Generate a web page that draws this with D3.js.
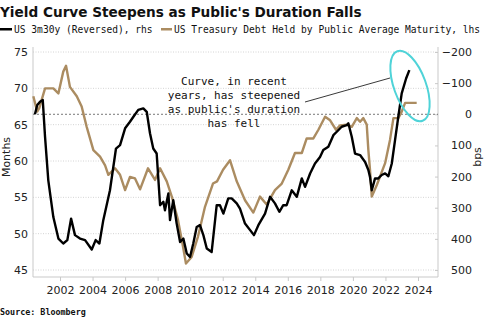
<!DOCTYPE html>
<html>
<head>
<meta charset="utf-8">
<script src="https://cdn.jsdelivr.net/npm/d3@7"></script>
<style>
  body { margin: 0; background: #fff; }
  svg { display: block; }
</style>
</head>
<body>
<svg id="chart" width="485" height="321"></svg>
<script>
// avg maturity of debt held by public (months), lhs
var matYears = [2000.36, 2000.60, 2000.73, 2001.08, 2001.59, 2001.90, 2002.20, 2002.37, 2002.61, 2003.03,
  2003.33, 2003.64, 2004.05, 2004.46, 2004.77, 2004.97, 2005.38, 2005.69, 2006.00, 2006.30,
  2006.61, 2006.92, 2007.41, 2007.84, 2008.15, 2008.56, 2008.87, 2009.25, 2009.56, 2009.74,
  2010.09, 2010.48, 2010.91, 2011.40, 2011.65, 2012.02, 2012.45, 2012.86, 2013.37, 2013.88,
  2014.29, 2014.70, 2015.21, 2015.63, 2016.03, 2016.44, 2016.86, 2017.16, 2017.57, 2017.88,
  2018.29, 2018.60, 2018.96, 2019.21, 2019.62, 2019.93, 2020.24, 2020.44, 2020.64, 2020.85,
  2020.95, 2021.05, 2021.16, 2021.47, 2021.98, 2022.28, 2022.49, 2022.79, 2023.00, 2023.21, 2023.92]
var matMonths = [68.9, 66.8, 67.3, 70.0, 70.0, 69.3, 72.3, 73.1, 70.2, 68.9,
  67.5, 64.7, 61.5, 60.6, 59.4, 58.1, 59.0, 58.1, 56.0, 57.8,
  57.6, 56.1, 59.0, 57.4, 59.0, 57.2, 55.1, 51.9, 48.2, 45.9,
  46.8, 49.6, 53.7, 56.9, 57.2, 58.8, 60.1, 57.2, 54.6, 52.9,
  55.1, 54.0, 56.0, 56.9, 58.8, 61.1, 61.1, 63.1, 63.1, 64.3,
  66.1, 65.6, 64.3, 64.9, 65.0, 64.7, 65.9, 65.4, 65.9, 65.0,
  61.5, 58.8, 55.1, 56.7, 59.7, 62.9, 65.9, 65.9, 66.8, 68.0, 68.0]

// US 3m30y spread (bps, reversed), rhs
var crvYears = [2000.46, 2000.60, 2000.77, 2000.94, 2001.08, 2001.28, 2001.59, 2001.90, 2002.20, 2002.45,
  2002.68, 2002.92, 2003.23, 2003.54, 2003.95, 2004.19, 2004.42, 2004.66, 2005.07, 2005.44,
  2005.69, 2006.00, 2006.30, 2006.51, 2006.81, 2007.12, 2007.33, 2007.53, 2007.73, 2007.94,
  2008.15, 2008.35, 2008.45, 2008.66, 2008.76, 2008.96, 2009.17, 2009.38, 2009.58, 2009.79,
  2009.99, 2010.19, 2010.40, 2010.60, 2010.81, 2011.02, 2011.32, 2011.63, 2011.83, 2012.04,
  2012.34, 2012.55, 2012.86, 2013.06, 2013.37, 2013.92, 2014.19, 2014.60, 2014.91, 2015.21,
  2015.48, 2015.72, 2015.93, 2016.24, 2016.55, 2016.86, 2017.06, 2017.37, 2017.67, 2017.98,
  2018.18, 2018.49, 2018.80, 2019.01, 2019.31, 2019.62, 2019.72, 2019.93, 2020.13, 2020.44,
  2020.75, 2020.95, 2021.05, 2021.16, 2021.36, 2021.56, 2021.77, 2021.98, 2022.18, 2022.39,
  2022.59, 2022.79, 2023.00, 2023.27, 2023.47]
var crvBps = [0, -30, -40, -46, 72, 212, 330, 399, 415, 404,
  335, 388, 399, 404, 434, 404, 415, 340, 244, 110,
  99, 45, 24, 8, -14, -19, -8, 61, 110, 126,
  292, 281, 308, 254, 340, 276, 351, 410, 399, 447,
  458, 415, 362, 356, 388, 431, 442, 292, 292, 319,
  270, 270, 286, 303, 351, 388, 356, 319, 265, 286,
  313, 292, 292, 244, 265, 206, 233, 190, 158, 137,
  115, 104, 67, 56, 40, 35, 29, 72, 126, 131,
  153, 179, 201, 244, 206, 206, 195, 190, 199, 158,
  83, 8, -67, -115, -142]

var yearTicks = d3.range(2002, 2025, 2)
var leftTicks = [45, 50, 55, 60, 65, 70, 75]
var rightTicks = [-200, -100, 0, 100, 200, 300, 400, 500]
var noteLines = ["Curve, in recent", "years, has steepened", "as public's duration", "has fell"]

var svg = d3.select("#chart")
var plot = {left: 33, right: 438, top: 52, bottom: 270, frameTop: 47, frameBottom: 277}
var grey = "#c9c9c9", tan = "#ab8c61"
var sans = "DejaVu Sans", mono = "DejaVu Sans Mono"

var x = d3.scaleLinear().domain([2000.34, 2025.23]).range([plot.left, plot.right])
var yL = d3.scaleLinear().domain([45, 75]).range([plot.bottom, plot.top])
var yR = d3.scaleLinear().domain([500, -200]).range([plot.bottom, plot.top])

// title
var title = svg.append("text")
    .attr("x", 0)
    .attr("y", 17)
    .attr("font-family", sans)
    .attr("font-weight", "bold")
    .attr("font-size", "16px")
    .attr("fill", "#111")
    .text("Yield Curve Steepens as Public's Duration Falls")
var tw = title.node().getComputedTextLength()
title.attr("font-size", (16 * 362 / tw) + "px")

// legend
svg.append("rect").attr("x", 0).attr("y", 28).attr("width", 12).attr("height", 2.5).attr("fill", "#000")
svg.append("text").attr("x", 14).attr("y", 32.5)
    .attr("font-family", mono).attr("font-size", "9.6px").attr("fill", "#111")
    .text("US 3m30y (Reversed), rhs")
svg.append("rect").attr("x", 161).attr("y", 28).attr("width", 11).attr("height", 2.5).attr("fill", tan)
svg.append("text").attr("x", 174).attr("y", 32.5)
    .attr("font-family", mono).attr("font-size", "9.6px").attr("fill", "#111")
    .text("US Treasury Debt Held by Public Average Maturity, lhs")

// gridlines on left ticks
svg.append("g").selectAll("line")
  .data(leftTicks)
  .enter().append("line")
    .attr("x1", plot.left).attr("x2", plot.right)
    .attr("y1", function(d) { return yL(d) }).attr("y2", function(d) { return yL(d) })
    .attr("stroke", "#d4d4d4").attr("stroke-width", 1).attr("stroke-dasharray", "1,1.5")

// frame
svg.append("line").attr("x1", plot.left).attr("x2", plot.left).attr("y1", plot.frameTop).attr("y2", plot.frameBottom).attr("stroke", grey)
svg.append("line").attr("x1", plot.right).attr("x2", plot.right).attr("y1", plot.frameTop).attr("y2", plot.frameBottom).attr("stroke", grey)
svg.append("line").attr("x1", plot.left).attr("x2", plot.right).attr("y1", plot.frameBottom).attr("y2", plot.frameBottom).attr("stroke", grey)

// x axis
var xAxis = svg.append("g")
    .attr("transform", "translate(0," + plot.frameBottom + ")")
    .call(d3.axisBottom(x).tickValues(yearTicks).tickFormat(d3.format("d")).tickSize(4).tickPadding(5))
xAxis.select(".domain").remove()
xAxis.selectAll("line").attr("stroke", grey)
xAxis.selectAll("text").attr("font-family", sans).attr("font-size", "11px").attr("fill", "#222")

// left axis
var lAxis = svg.append("g")
    .attr("transform", "translate(" + plot.left + ",0)")
    .call(d3.axisLeft(yL).tickValues(leftTicks).tickSize(0).tickPadding(5))
lAxis.select(".domain").remove()
lAxis.selectAll("text").attr("font-family", sans).attr("font-size", "11px").attr("fill", "#222")

// right axis
var rAxis = svg.append("g")
    .attr("transform", "translate(" + plot.right + ",0)")
    .call(d3.axisRight(yR).tickValues(rightTicks).tickSize(-3).tickPadding(0))
rAxis.select(".domain").remove()
rAxis.selectAll("line").attr("stroke", grey)
rAxis.selectAll("text").attr("font-family", sans).attr("font-size", "11px").attr("fill", "#222")
    .attr("text-anchor", "end").attr("x", 34)

svg.append("text")
    .attr("transform", "translate(6,157) rotate(-90)")
    .attr("text-anchor", "middle").attr("dominant-baseline", "central")
    .attr("font-family", sans).attr("font-size", "11px").attr("fill", "#222")
    .text("Months")
svg.append("text")
    .attr("transform", "translate(477,157) rotate(-90)")
    .attr("text-anchor", "middle").attr("dominant-baseline", "central")
    .attr("font-family", sans).attr("font-size", "11px").attr("fill", "#222")
    .text("bps")

// zero line of rhs
svg.append("line")
    .attr("x1", plot.left).attr("x2", plot.right)
    .attr("y1", yR(0)).attr("y2", yR(0))
    .attr("stroke", "#555").attr("stroke-width", 0.8).attr("stroke-dasharray", "2,2")

// series
var matData = matYears.map(function(d, i) { return [d, matMonths[i]] })
var crvData = crvYears.map(function(d, i) { return [d, crvBps[i]] })

svg.append("path")
    .datum(matData)
    .attr("fill", "none").attr("stroke", tan).attr("stroke-width", 2.4).attr("stroke-linejoin", "round")
    .attr("d", d3.line().x(function(d) { return x(d[0]) }).y(function(d) { return yL(d[1]) }))

svg.append("path")
    .datum(crvData)
    .attr("fill", "none").attr("stroke", "#000").attr("stroke-width", 2.4).attr("stroke-linejoin", "round")
    .attr("d", d3.line().x(function(d) { return x(d[0]) }).y(function(d) { return yR(d[1]) }))

// annotation
svg.append("g").selectAll("text")
  .data(noteLines)
  .enter().append("text")
    .attr("x", 234)
    .attr("y", function(d, i) { return 85 + i * 14 })
    .attr("text-anchor", "middle")
    .attr("font-family", mono).attr("font-size", "11px").attr("fill", "#111")
    .text(function(d) { return d })

svg.append("line")
    .attr("x1", 305).attr("y1", 102).attr("x2", 390).attr("y2", 78)
    .attr("stroke", "#222").attr("stroke-width", 0.9)

svg.append("ellipse")
    .attr("transform", "translate(410,86) rotate(-20)")
    .attr("rx", 16).attr("ry", 37)
    .attr("fill", "none").attr("stroke", "#4fd3d8").attr("stroke-width", 2)

svg.append("text")
    .attr("x", 0).attr("y", 315)
    .attr("font-family", mono).attr("font-weight", "bold").attr("font-size", "8.4px").attr("fill", "#111")
    .text("Source: Bloomberg")
</script>
</body>
</html>
